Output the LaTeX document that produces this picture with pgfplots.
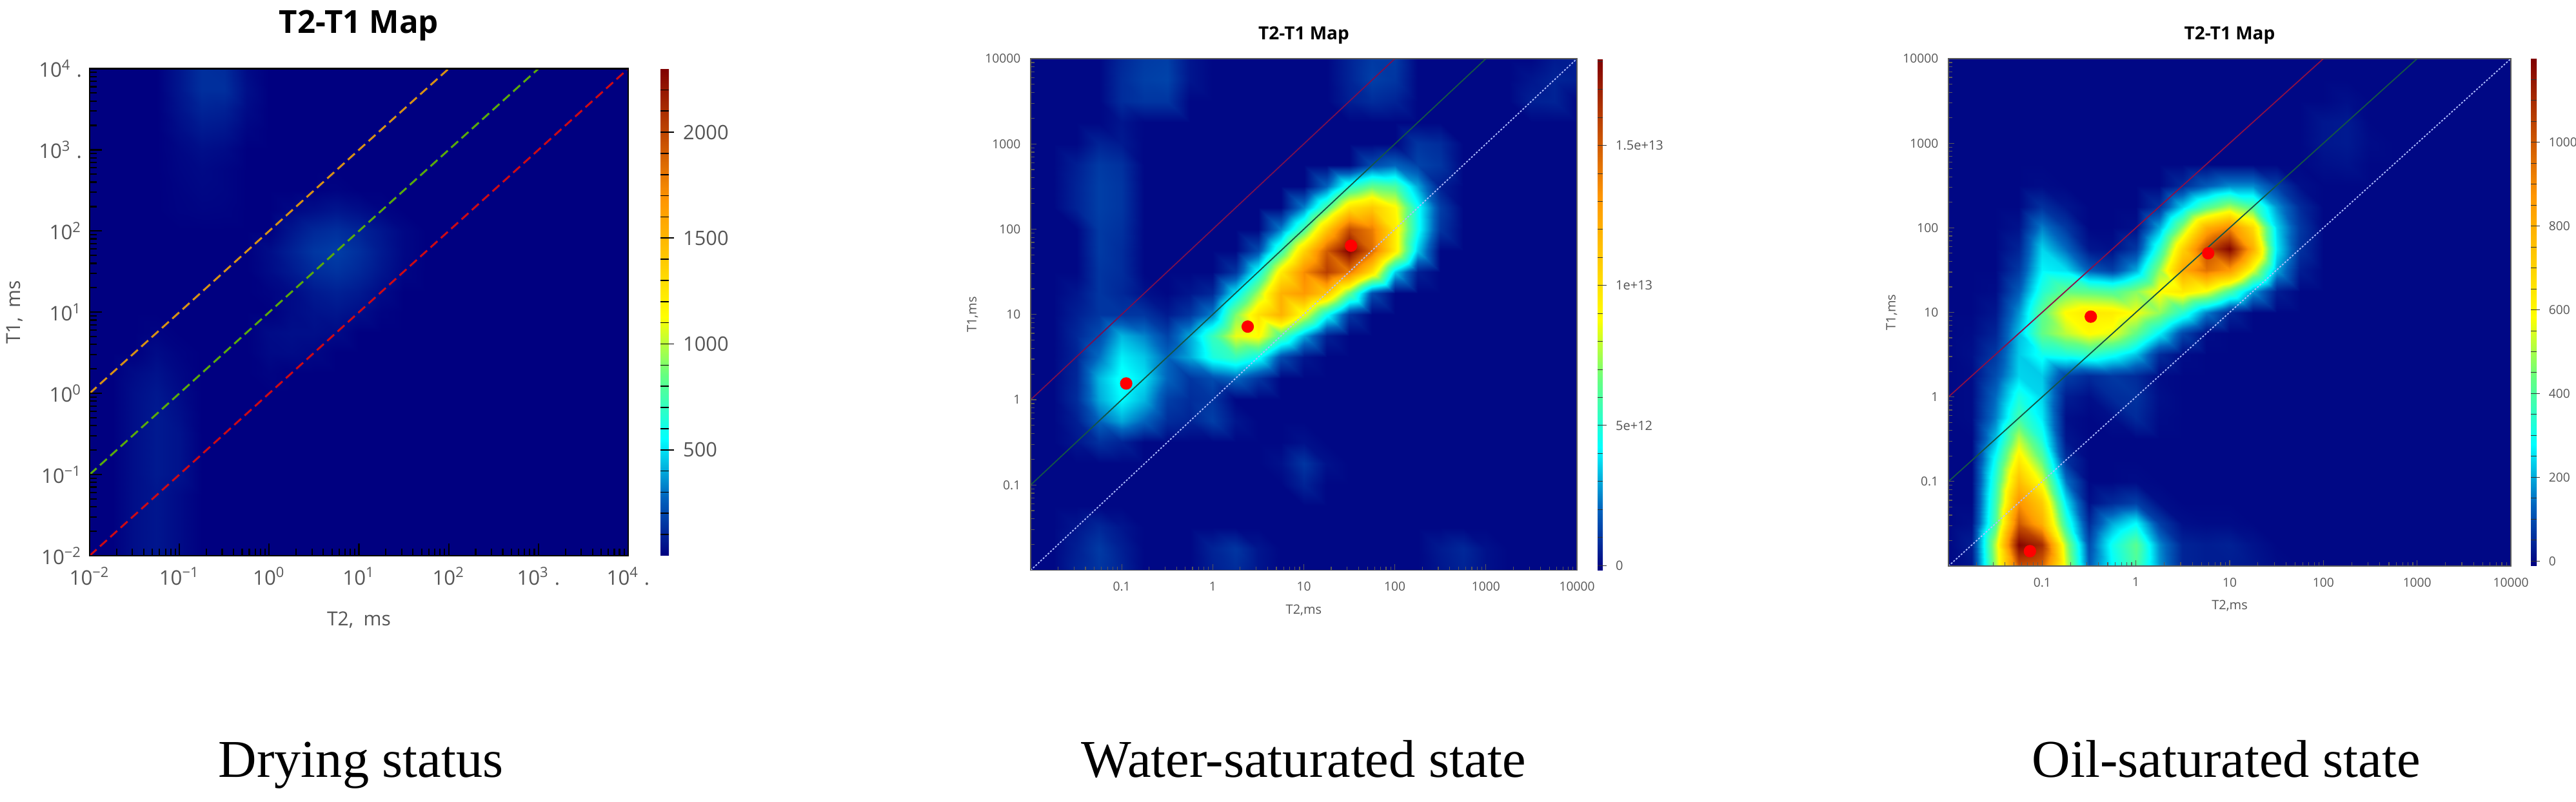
\documentclass[border=0pt]{standalone}
\usepackage{fontspec}
\setmainfont{Open Sans}
\newfontfamily\capfont{Liberation Serif}
\usepackage{pgfplots}
\pgfplotsset{compat=1.18}
\definecolor{navy0}{RGB}{0,0,128}
\definecolor{lab}{RGB}{85,85,85}
\pgfplotsset{colormap={refjet}{rgb255(0pt)=(0,0,128); rgb255(12pt)=(0,100,190); rgb255(24pt)=(0,255,255); rgb255(37pt)=(100,255,130); rgb255(49pt)=(255,255,0); rgb255(60pt)=(255,205,0); rgb255(73pt)=(255,150,0); rgb255(85pt)=(200,80,0); rgb255(100pt)=(128,0,0)}}
\pgfplotsset{
 heat/.style={surf,shader=interp,mesh/cols=25,mesh/check=false,point meta=explicit},
 baseaxis/.style={scale only axis,xmin=0.01,xmax=10000,ymin=0.01,ymax=10000,
  colormap name=refjet,colorbar,tick pos=left,axis on top,
  xtick={0.01,0.1,1,10,100,1000,10000},ytick={0.01,0.1,1,10,100,1000,10000}},
 p23/.style={baseaxis,xticklabels={,0.1,1,10,100,1000,10000},yticklabels={,0.1,1,10,100,1000,10000},
  axis line style={draw=black!65,line width=0.3pt},tick style={draw=black!65,line width=0.3pt},
  major tick length=2.3pt,minor tick length=1.4pt,
  tick label style={font=\fontsize{4.8}{5}\selectfont,text=lab},label style={font=\fontsize{5}{6}\selectfont,text=lab},
  title style={font=\fontsize{7}{8}\selectfont\bfseries,at={(axis description cs:0.5,1)},anchor=center,yshift=3pt},
  xlabel={T2,ms},ylabel={T1,ms},title={T2-T1 Map},
  xticklabel style={yshift=-1pt},yticklabel style={xshift=-0.4pt}},
}
\begin{document}
\begin{tikzpicture}
\useasboundingbox (0,0) rectangle (998.5pt,310.75pt);
% ---- panel 1
\begin{loglogaxis}[baseaxis,at={(34.75pt,95.25pt)},anchor=south west,width=208.75pt,height=188.875pt,
 point meta min=0,point meta max=2300,
 axis line style={draw=black,line width=0.6pt},tick style={draw=black,line width=0.55pt},
 major tick length=4.75pt,minor tick length=2.75pt,
 xticklabels={10\textsuperscript{−2},10\textsuperscript{−1},10\textsuperscript{0},10\textsuperscript{1},10\textsuperscript{2},10\textsuperscript{3} .,10\textsuperscript{4} .},
 yticklabels={10\textsuperscript{−2},10\textsuperscript{−1},10\textsuperscript{0},10\textsuperscript{1},10\textsuperscript{2},10\textsuperscript{3} .,10\textsuperscript{4} .},
 tick label style={font=\fontsize{7.8}{9}\selectfont,text=lab},label style={font=\fontsize{7.5}{9}\selectfont,text=lab},
 xticklabel style={yshift=-1pt},yticklabel style={xshift=0.5pt},
 xlabel={T2,~~ms},ylabel={T1,~~ms},title={T2-T1 Map},
 title style={font=\fontsize{12.3}{14}\selectfont\bfseries,at={(axis description cs:0.5,1)},anchor=center,yshift=10.8pt},
 xlabel style={at={(axis description cs:0.5,0)},anchor=center,yshift=-25pt},
 ylabel style={at={(axis description cs:0,0.5)},anchor=center,yshift=29pt},
 colorbar style={at={(parent axis.north east)},anchor=north west,xshift=3.965pt,width=3.25pt,scale only axis,
  ytick={500,1000,1500,2000},yticklabels={500,1000,1500,2000},minor ytick={100,200,...,2200},ytick pos=right,yticklabel pos=right,tick align=inside,
  major tick length=5.25pt,minor tick length=3.25pt,
  tick style={draw=black,line width=0.4pt},major tick style={xshift=2pt},
  axis line style={draw=none},yticklabel style={font=\fontsize{7.7}{9}\selectfont,text=lab,xshift=2pt}}]
\addplot[heat] table[row sep=\\,header=false,x expr={10^(-2+0.25*mod(\coordindex,25))},y expr={10^(-2+0.25*(\coordindex-mod(\coordindex,25))/25)},meta index=0] {
0\\0\\40\\60\\30\\0\\0\\0\\0\\0\\0\\0\\0\\0\\0\\0\\0\\0\\0\\0\\0\\0\\0\\0\\0\\
0\\0\\40\\60\\30\\0\\0\\0\\0\\0\\0\\0\\0\\0\\0\\0\\0\\0\\0\\0\\0\\0\\0\\0\\0\\
0\\0\\40\\60\\30\\0\\0\\0\\0\\0\\0\\0\\0\\0\\0\\0\\0\\0\\0\\0\\0\\0\\0\\0\\0\\
0\\0\\40\\60\\30\\0\\0\\0\\0\\0\\0\\0\\0\\0\\0\\0\\0\\0\\0\\0\\0\\0\\0\\0\\0\\
0\\0\\40\\70\\50\\0\\0\\0\\0\\0\\0\\0\\0\\0\\0\\0\\0\\0\\0\\0\\0\\0\\0\\0\\0\\
0\\0\\40\\70\\50\\0\\0\\0\\0\\0\\0\\0\\0\\0\\0\\0\\0\\0\\0\\0\\0\\0\\0\\0\\0\\
0\\0\\40\\70\\50\\0\\0\\0\\0\\0\\0\\0\\0\\0\\0\\0\\0\\0\\0\\0\\0\\0\\0\\0\\0\\
0\\0\\40\\70\\40\\0\\0\\0\\0\\0\\0\\0\\0\\0\\0\\0\\0\\0\\0\\0\\0\\0\\0\\0\\0\\
0\\0\\40\\65\\30\\0\\0\\0\\0\\0\\0\\0\\0\\0\\0\\0\\0\\0\\0\\0\\0\\0\\0\\0\\0\\
0\\0\\30\\50\\20\\0\\0\\0\\10\\0\\0\\0\\0\\0\\0\\0\\0\\0\\0\\0\\0\\0\\0\\0\\0\\
0\\0\\0\\30\\10\\0\\0\\0\\25\\30\\20\\0\\0\\0\\0\\0\\0\\0\\0\\0\\0\\0\\0\\0\\0\\
0\\0\\0\\10\\0\\0\\0\\0\\30\\40\\40\\30\\0\\0\\0\\0\\0\\0\\0\\0\\0\\0\\0\\0\\0\\
0\\0\\0\\0\\0\\0\\0\\0\\0\\30\\50\\60\\40\\10\\0\\0\\0\\0\\0\\0\\0\\0\\0\\0\\0\\
0\\0\\0\\0\\0\\0\\0\\0\\10\\30\\70\\90\\70\\30\\0\\0\\0\\0\\0\\0\\0\\0\\0\\0\\0\\
0\\0\\0\\0\\0\\0\\0\\0\\30\\70\\120\\140\\110\\60\\15\\0\\0\\0\\0\\0\\0\\0\\0\\0\\0\\
0\\0\\0\\0\\0\\0\\0\\0\\35\\90\\150\\170\\130\\70\\20\\0\\0\\0\\0\\0\\0\\0\\0\\0\\0\\
0\\0\\0\\0\\0\\0\\0\\0\\0\\60\\110\\130\\100\\60\\20\\0\\0\\0\\0\\0\\0\\0\\0\\0\\0\\
0\\0\\0\\0\\8\\12\\10\\0\\0\\20\\40\\60\\40\\15\\0\\0\\0\\0\\0\\0\\0\\0\\0\\0\\0\\
0\\0\\0\\0\\10\\20\\15\\0\\0\\0\\0\\10\\0\\0\\0\\0\\0\\0\\0\\0\\0\\0\\0\\0\\0\\
0\\0\\0\\0\\15\\25\\15\\0\\0\\0\\0\\0\\0\\0\\0\\0\\0\\0\\0\\0\\0\\0\\0\\0\\0\\
0\\0\\0\\0\\20\\40\\30\\0\\0\\0\\0\\0\\0\\0\\0\\0\\0\\0\\0\\0\\0\\0\\0\\0\\0\\
0\\0\\0\\0\\35\\70\\60\\15\\0\\0\\0\\0\\0\\0\\0\\0\\0\\0\\0\\0\\0\\0\\0\\0\\0\\
0\\0\\0\\0\\50\\100\\90\\30\\0\\0\\0\\0\\0\\0\\0\\0\\0\\0\\0\\0\\0\\0\\0\\0\\0\\
0\\0\\0\\0\\60\\130\\130\\40\\0\\0\\0\\0\\0\\0\\0\\0\\0\\0\\0\\0\\0\\0\\0\\0\\0\\
0\\0\\0\\0\\60\\130\\120\\30\\0\\0\\0\\0\\0\\0\\0\\0\\0\\0\\0\\0\\0\\0\\0\\0\\0\\
};
\addplot[line width=0.75pt,draw={rgb,255:red,215;green,145;blue,20},dash pattern=on 3.6pt off 1.8pt] coordinates {(0.01,1) (100,10000)};
\addplot[line width=0.75pt,draw={rgb,255:red,90;green,170;blue,10},dash pattern=on 3.6pt off 1.8pt] coordinates {(0.01,0.1) (1000,10000)};
\addplot[line width=0.75pt,draw={rgb,255:red,205;green,10;blue,20},dash pattern=on 3.6pt off 1.8pt] coordinates {(0.01,0.01) (10000,10000)};
\end{loglogaxis}
% ---- panel 2
\begin{loglogaxis}[p23,at={(399.5pt,89.625pt)},anchor=south west,width=211.75pt,height=198.375pt,
 point meta min=-0.17,point meta max=18.1,
 xlabel style={at={(axis description cs:0.5,0)},anchor=center,yshift=-15.5pt},
 ylabel style={at={(axis description cs:0,0.5)},anchor=center,yshift=22.5pt},
 colorbar style={at={(parent axis.north east)},anchor=north west,xshift=-0.535pt,width=2pt,scale only axis,
  ytick={0,5,10,15},yticklabels={0,5e+12,1e+13,1.5e+13},minor ytick={1,2,...,18},ytick pos=right,yticklabel pos=right,tick align=inside,
  major tick length=3.5pt,minor tick length=2pt,
  tick style={draw=black!80,line width=0.25pt},major tick style={xshift=1.5pt},
  axis line style={draw=none},yticklabel style={font=\fontsize{5}{6}\selectfont,text=lab,xshift=1.5pt}}]
\addplot[heat] table[row sep=\\,header=false,x expr={10^(-2+0.25*mod(\coordindex,25))},y expr={10^(-2+0.25*(\coordindex-mod(\coordindex,25))/25)},meta index=0] {
0\\0\\.6\\1\\.6\\
0\\0\\0\\.5\\.8\\
.3\\0\\0\\0\\0\\
0\\0\\0\\.3\\.6\\
.2\\0\\0\\0\\0\\
0\\0\\.5\\1.1\\.5\\
0\\0\\0\\.6\\1\\
.3\\0\\0\\0\\0\\
0\\0\\0\\.4\\.7\\
.2\\0\\0\\0\\0\\
0\\0\\.3\\.7\\.3\\
0\\0\\0\\0\\0\\
0\\0\\0\\0\\0\\
0\\0\\0\\0\\0\\
0\\0\\0\\0\\0\\
0\\0\\0\\0\\0\\
0\\0\\0\\0\\0\\
0\\0\\0\\0\\0\\
0\\0\\0\\0\\0\\
0\\0\\0\\0\\0\\
0\\0\\0\\0\\0\\
0\\0\\0\\0\\0\\
0\\0\\.6\\0\\0\\
0\\0\\0\\0\\0\\
0\\0\\0\\0\\0\\
0\\0\\0\\0\\0\\
0\\0\\0\\0\\0\\
0\\.2\\1\\.2\\0\\
0\\0\\0\\0\\0\\
0\\0\\0\\0\\0\\
0\\0\\.3\\.9\\.6\\
0\\0\\0\\0\\0\\
0\\0\\.2\\0\\0\\
0\\0\\0\\0\\0\\
0\\0\\0\\0\\0\\
0\\0\\.5\\2\\3\\
2\\.8\\.6\\1.2\\.3\\
0\\0\\0\\0\\0\\
0\\0\\0\\0\\0\\
0\\0\\0\\0\\0\\
0\\0\\.8\\3\\4.2\\
3.2\\1.2\\.8\\1\\0\\
0\\0\\0\\0\\0\\
0\\0\\0\\0\\0\\
0\\0\\0\\0\\0\\
0\\0\\.7\\3.2\\4.5\\
3.8\\2\\1\\1.5\\2\\
1\\0\\0\\0\\0\\
0\\0\\0\\0\\0\\
0\\0\\0\\0\\0\\
0\\0\\.6\\2.2\\4\\
3.4\\2\\3\\4.8\\5.5\\
4.5\\1.5\\.3\\0\\0\\
0\\0\\0\\0\\0\\
0\\0\\0\\0\\0\\
0\\0\\.7\\1.5\\3.2\\
2.5\\1.3\\3\\5.5\\8.5\\
9\\6\\3\\.5\\0\\
0\\0\\0\\0\\0\\
0\\0\\0\\0\\0\\
0\\0\\.5\\1\\1\\
1\\.4\\1\\2.5\\7\\
10\\12\\8.5\\4.5\\1\\
0\\0\\0\\0\\0\\
0\\0\\0\\0\\0\\
0\\0\\.3\\1\\.7\\
.2\\0\\.3\\.7\\4\\
7.5\\12\\13\\11\\6.5\\
1.5\\0\\0\\0\\0\\
0\\0\\0\\0\\0\\
0\\0\\0\\1\\.8\\
0\\0\\0\\0\\1\\
4.5\\9.5\\13.5\\16\\14\\
10\\3.5\\.5\\0\\0\\
0\\0\\0\\0\\0\\
0\\0\\0\\1.1\\.8\\
0\\0\\0\\0\\0\\
1.5\\5.5\\10.5\\15\\18.1\\
14.5\\9.5\\3.5\\0\\0\\
0\\0\\0\\0\\0\\
0\\0\\0\\1.1\\.9\\
0\\0\\0\\0\\0\\
0\\2.5\\6\\11\\15.5\\
14\\9.5\\4.5\\1\\0\\
0\\0\\0\\0\\0\\
0\\0\\.6\\1.2\\1\\
0\\0\\0\\0\\0\\
0\\0\\2.5\\6\\10\\
11\\9\\4.5\\1.2\\0\\
0\\0\\0\\0\\0\\
0\\0\\.6\\1.2\\1\\
0\\0\\0\\0\\0\\
0\\0\\0\\2\\5\\
6.5\\6\\3\\.5\\0\\
0\\0\\0\\0\\0\\
0\\0\\.5\\1.1\\.9\\
0\\0\\0\\0\\0\\
0\\0\\0\\0\\0\\
1.5\\2\\1.3\\1\\0\\
0\\0\\0\\0\\0\\
0\\0\\0\\.6\\.4\\
0\\0\\0\\0\\0\\
0\\0\\0\\0\\0\\
0\\0\\1\\.8\\0\\
0\\0\\0\\0\\0\\
0\\0\\0\\0\\.3\\
0\\0\\0\\0\\0\\
0\\0\\0\\0\\0\\
0\\0\\0\\0\\0\\
0\\0\\0\\0\\0\\
0\\0\\0\\0\\.8\\
1\\1\\0\\0\\0\\
0\\0\\0\\0\\.5\\
.8\\.6\\0\\0\\0\\
0\\0\\.5\\.6\\0\\
0\\0\\0\\0\\.8\\
1.2\\1.3\\.3\\0\\0\\
0\\0\\0\\0\\.6\\
1.2\\1\\0\\0\\0\\
0\\0\\.3\\.6\\.5\\
0\\0\\0\\0\\.7\\
1.1\\1.2\\.3\\0\\0\\
0\\0\\0\\0\\.6\\
1.1\\1.1\\0\\0\\0\\
0\\0\\0\\.4\\.5\\
};
\addplot[line width=0.45pt,draw={rgb,255:red,120;green,15;blue,80}] coordinates {(0.01,1) (100,10000)};
\addplot[line width=0.45pt,draw={rgb,255:red,20;green,85;blue,70}] coordinates {(0.01,0.1) (1000,10000)};
\addplot[line width=0.45pt,draw={rgb,255:red,175;green,190;blue,255},dash pattern=on 0.7pt off 0.6pt] coordinates {(0.01,0.01) (10000,10000)};
\addplot[only marks,mark=*,mark size=2.2pt,mark options={draw=red,fill=red}] coordinates {(0.112,1.55) (2.42,7.2) (33,64)};
\end{loglogaxis}
% ---- panel 3
\begin{loglogaxis}[p23,at={(755.25pt,91.25pt)},anchor=south west,width=218pt,height=196.75pt,
 point meta min=-12,point meta max=1200,
 xlabel style={at={(axis description cs:0.5,0)},anchor=center,yshift=-15.5pt},
 ylabel style={at={(axis description cs:0,0.5)},anchor=center,yshift=22pt},
 colorbar style={at={(parent axis.north east)},anchor=north west,xshift=-0.785pt,width=2.25pt,scale only axis,
  ytick={0,200,400,600,800,1000},yticklabels={0,200,400,600,800,1000},minor ytick={50,100,...,1150},ytick pos=right,yticklabel pos=right,tick align=inside,
  major tick length=3.5pt,minor tick length=2.25pt,
  tick style={draw=black!80,line width=0.25pt},major tick style={xshift=1.2pt},
  axis line style={draw=none},yticklabel style={font=\fontsize{4.8}{6}\selectfont,text=lab,xshift=1.2pt}}]
\addplot[heat] table[row sep=\\,header=false,x expr={10^(-2+0.25*mod(\coordindex,25))},y expr={10^(-2+0.25*(\coordindex-mod(\coordindex,25))/25)},meta index=0] {
0\\20\\500\\1020\\980\\
540\\120\\280\\400\\180\\
40\\30\\30\\20\\5\\
0\\0\\0\\0\\0\\
0\\0\\0\\0\\0\\
0\\30\\520\\1190\\1100\\
500\\100\\300\\420\\170\\
40\\30\\35\\15\\0\\
0\\0\\0\\0\\0\\
0\\0\\0\\0\\0\\
0\\10\\400\\1000\\800\\
350\\50\\200\\280\\80\\
10\\5\\5\\0\\0\\
0\\0\\0\\0\\0\\
0\\0\\0\\0\\0\\
0\\0\\380\\880\\720\\
260\\10\\50\\80\\10\\
0\\0\\0\\0\\0\\
0\\0\\0\\0\\0\\
0\\0\\0\\0\\0\\
0\\0\\350\\760\\560\\
150\\0\\0\\5\\0\\
0\\0\\0\\0\\0\\
0\\0\\0\\0\\0\\
0\\0\\0\\0\\0\\
0\\0\\300\\640\\430\\
60\\0\\0\\0\\0\\
0\\0\\0\\0\\0\\
0\\0\\0\\0\\0\\
0\\0\\0\\0\\0\\
0\\0\\220\\520\\320\\
20\\0\\0\\0\\0\\
0\\0\\0\\0\\0\\
0\\0\\0\\0\\0\\
0\\0\\0\\0\\0\\
0\\5\\160\\380\\260\\
10\\0\\10\\50\\5\\
0\\0\\0\\0\\0\\
0\\0\\0\\0\\0\\
0\\0\\0\\0\\0\\
0\\5\\140\\320\\240\\
30\\10\\50\\60\\10\\
0\\0\\0\\0\\0\\
0\\0\\0\\0\\0\\
0\\0\\0\\0\\0\\
0\\5\\100\\240\\230\\
80\\50\\70\\50\\5\\
0\\0\\0\\0\\0\\
0\\0\\0\\0\\0\\
0\\0\\0\\0\\0\\
0\\10\\70\\230\\300\\
320\\350\\300\\220\\50\\
5\\0\\0\\0\\0\\
0\\0\\0\\0\\0\\
0\\0\\0\\0\\0\\
0\\5\\40\\220\\430\\
520\\590\\560\\430\\270\\
90\\5\\0\\0\\0\\
0\\0\\0\\0\\0\\
0\\0\\0\\0\\0\\
0\\0\\20\\180\\420\\
590\\640\\630\\570\\480\\
340\\160\\40\\0\\0\\
0\\0\\0\\0\\0\\
0\\0\\0\\0\\0\\
0\\0\\5\\120\\330\\
430\\420\\400\\470\\590\\
640\\570\\400\\190\\30\\
0\\0\\0\\0\\0\\
0\\0\\0\\0\\0\\
0\\0\\0\\70\\270\\
250\\120\\80\\200\\480\\
820\\950\\860\\560\\200\\
30\\0\\0\\0\\0\\
0\\0\\0\\0\\0\\
0\\0\\0\\40\\240\\
140\\20\\10\\70\\340\\
700\\1030\\1190\\800\\260\\
60\\0\\0\\0\\0\\
0\\0\\0\\0\\0\\
0\\0\\0\\15\\160\\
70\\0\\0\\10\\200\\
480\\800\\900\\680\\240\\
70\\0\\0\\0\\0\\
0\\0\\0\\0\\0\\
0\\0\\0\\0\\60\\
20\\0\\0\\0\\60\\
240\\400\\500\\400\\180\\
50\\0\\0\\0\\0\\
0\\0\\0\\0\\0\\
0\\0\\0\\0\\5\\
0\\0\\0\\0\\0\\
50\\120\\170\\170\\80\\
10\\0\\0\\0\\0\\
0\\0\\0\\0\\0\\
0\\0\\0\\0\\0\\
0\\0\\0\\0\\0\\
0\\0\\0\\0\\0\\
0\\10\\15\\0\\0\\
0\\0\\0\\0\\0\\
0\\0\\0\\0\\0\\
0\\0\\0\\0\\0\\
0\\0\\0\\0\\0\\
0\\20\\25\\5\\0\\
0\\0\\0\\0\\0\\
0\\0\\0\\0\\0\\
0\\0\\0\\0\\0\\
0\\0\\0\\0\\0\\
0\\20\\25\\0\\0\\
0\\0\\0\\0\\0\\
0\\0\\0\\0\\0\\
0\\0\\0\\0\\0\\
0\\0\\0\\0\\0\\
0\\0\\10\\0\\0\\
0\\0\\0\\0\\0\\
0\\0\\0\\0\\0\\
0\\0\\0\\0\\0\\
0\\0\\0\\0\\0\\
0\\0\\0\\0\\0\\
0\\0\\0\\0\\0\\
0\\0\\0\\0\\0\\
0\\0\\0\\0\\0\\
0\\0\\0\\0\\0\\
0\\0\\0\\0\\0\\
0\\0\\0\\0\\0\\
};
\addplot[line width=0.45pt,draw={rgb,255:red,140;green,15;blue,70}] coordinates {(0.01,1) (100,10000)};
\addplot[line width=0.45pt,draw={rgb,255:red,20;green,85;blue,70}] coordinates {(0.01,0.1) (1000,10000)};
\addplot[line width=0.45pt,draw={rgb,255:red,175;green,190;blue,255},dash pattern=on 0.7pt off 0.6pt] coordinates {(0.01,0.01) (10000,10000)};
\addplot[only marks,mark=*,mark size=2.2pt,mark options={draw=red,fill=red}] coordinates {(0.074,0.015) (0.33,8.9) (5.9,50)};
\end{loglogaxis}
% ---- captions
\node[font=\capfont\fontsize{20.6}{24}\selectfont,text=black,anchor=base west,inner sep=0pt] at (84.5pt,9.5pt) {Drying status};
\node[font=\capfont\fontsize{20.6}{24}\selectfont,text=black,anchor=base west,inner sep=0pt] at (419pt,9.5pt) {Water-saturated state};
\node[font=\capfont\fontsize{20.6}{24}\selectfont,text=black,anchor=base west,inner sep=0pt] at (787.5pt,9.5pt) {Oil-saturated state};
\end{tikzpicture}
\end{document}
